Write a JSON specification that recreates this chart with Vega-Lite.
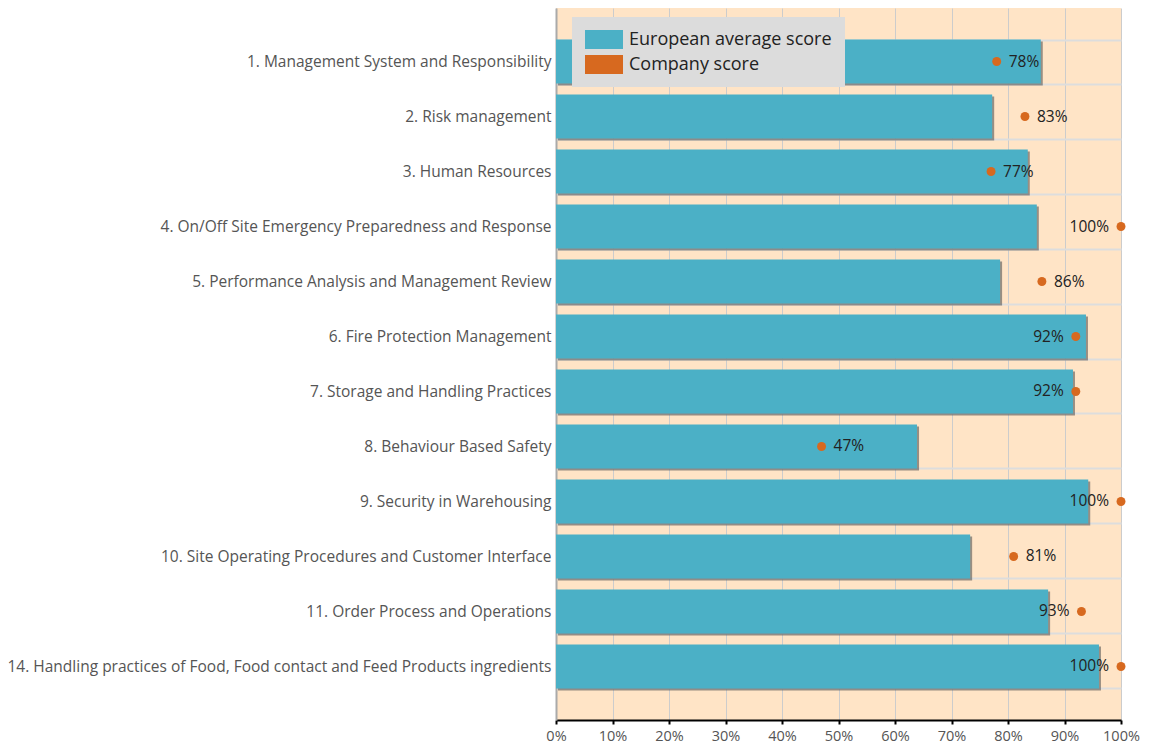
{
  "$schema": "https://vega.github.io/schema/vega-lite/v6.json",
  "width": 565,
  "height": 712,
  "autosize": {"type": "none"},
  "padding": {"left": 556, "top": 8, "right": 31, "bottom": 28},
  "background": "white",
  "config": {"view": {"fill": "#FFE4C6", "stroke": null}, "font": "Open Sans"},
  "data": {"values": [
    {"category": "1. Management System and Responsibility", "european": 0.858, "company": 0.78},
    {"category": "2. Risk management", "european": 0.772, "company": 0.83},
    {"category": "3. Human Resources", "european": 0.835, "company": 0.77},
    {"category": "4. On/Off Site Emergency Preparedness and Response", "european": 0.851, "company": 1.0},
    {"category": "5. Performance Analysis and Management Review", "european": 0.786, "company": 0.86},
    {"category": "6. Fire Protection Management", "european": 0.938, "company": 0.92},
    {"category": "7. Storage and Handling Practices", "european": 0.915, "company": 0.92},
    {"category": "8. Behaviour Based Safety", "european": 0.639, "company": 0.47},
    {"category": "9. Security in Warehousing", "european": 0.942, "company": 1.0},
    {"category": "10. Site Operating Procedures and Customer Interface", "european": 0.733, "company": 0.81},
    {"category": "11. Order Process and Operations", "european": 0.871, "company": 0.93},
    {"category": "14. Handling practices of Food, Food contact and Feed Products ingredients", "european": 0.961, "company": 1.0}
  ]},
  "encoding": {
    "y": {
      "field": "category", "type": "nominal", "sort": null,
      "scale": {"paddingInner": 0.2, "paddingOuter": 0.573},
      "axis": {
        "title": null, "labelFontSize": 15.5, "labelColor": "#555555", "labelLimit": 700,
        "ticks": false, "labelPadding": 5, "domainColor": "#AAAAAA", "domainWidth": 2,
        "grid": true, "gridColor": "#DDDDDD", "gridWidth": 2, "tickBand": "extent"
      }
    }
  },
  "layer": [
    {
      "mark": {"type": "bar", "color": "#555555", "opacity": 0.6, "xOffset": 2, "yOffset": 2},
      "encoding": {
        "x": {
          "field": "european", "type": "quantitative",
          "scale": {"domain": [0, 1], "nice": false},
          "axis": {
            "title": null, "format": "%", "values": [0, 0.1, 0.2, 0.3, 0.4, 0.5, 0.6, 0.7, 0.8, 0.9, 1],
            "labelFontSize": 14.5, "labelColor": "#555555", "labelFlush": false, "domainColor": "#000000", "domainWidth": 2,
            "tickColor": "#000000", "tickWidth": 2, "tickSize": 4, "gridColor": "#CCCCCC", "labelPadding": 5
          }
        }
      }
    },
    {
      "mark": {"type": "bar"},
      "encoding": {
        "x": {"field": "european", "type": "quantitative"},
        "color": {
          "datum": "European average score",
          "scale": {"domain": ["European average score", "Company score"], "range": ["#4BB0C6", "#D7691F"]},
          "legend": {
            "title": null, "orient": "none", "legendX": 16, "legendY": 9,
            "fillColor": "#DCDCDC", "padding": 13, "labelFontSize": 18, "labelColor": "#222222", "labelLimit": 400,
            "symbolSize": 361, "symbolType": "M-1,-1H3V1H-1Z", "symbolStrokeWidth": 0,
            "symbolOpacity": 1, "rowPadding": 6, "labelOffset": 25
          }
        }
      }
    },
    {
      "mark": {"type": "point", "filled": true, "size": 80, "opacity": 1},
      "encoding": {
        "x": {"field": "company", "type": "quantitative"},
        "color": {
          "datum": "Company score",
          "legend": {
            "title": null, "orient": "none", "legendX": 16, "legendY": 9,
            "fillColor": "#DCDCDC", "padding": 13, "labelFontSize": 18, "labelColor": "#222222", "labelLimit": 400,
            "symbolSize": 361, "symbolType": "M-1,-1H3V1H-1Z", "symbolStrokeWidth": 0,
            "symbolOpacity": 1, "rowPadding": 6, "labelOffset": 25
          }
        }
      }
    },
    {
      "transform": [{"filter": "datum.company < 0.9"}],
      "mark": {"type": "text", "align": "left", "dx": 12, "fontSize": 15.5, "color": "#222222"},
      "encoding": {
        "x": {"field": "company", "type": "quantitative"},
        "text": {"field": "company", "type": "quantitative", "format": ".0%"}
      }
    },
    {
      "transform": [{"filter": "datum.company >= 0.9"}],
      "mark": {"type": "text", "align": "right", "dx": -12, "fontSize": 15.5, "color": "#222222"},
      "encoding": {
        "x": {"field": "company", "type": "quantitative"},
        "text": {"field": "company", "type": "quantitative", "format": ".0%"}
      }
    }
  ]
}
